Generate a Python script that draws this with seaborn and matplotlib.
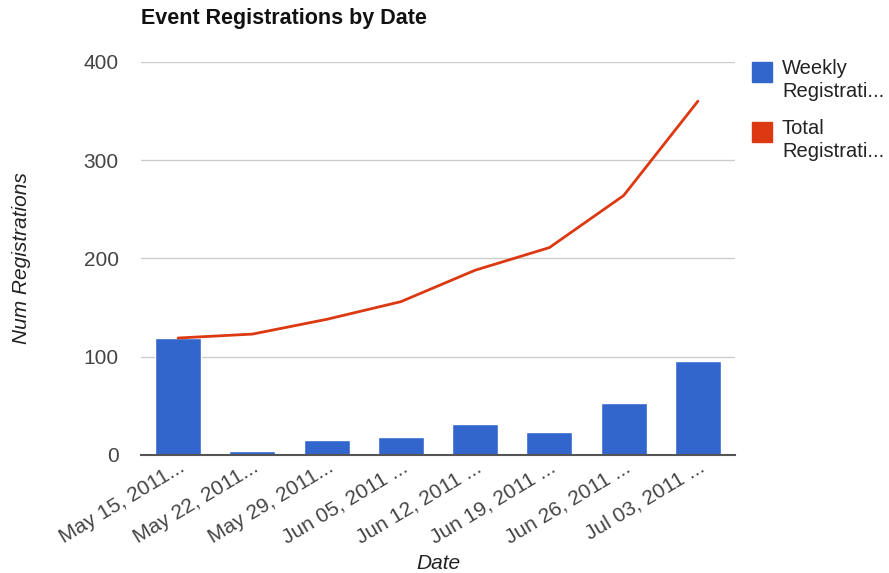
import pandas as pd
import matplotlib
matplotlib.use('Agg')
import matplotlib.pyplot as plt
import seaborn as sns
from matplotlib.patches import Rectangle

# Data
dates = ['May 15, 2011...', 'May 22, 2011...', 'May 29, 2011...', 'Jun 05, 2011 ...',
         'Jun 12, 2011 ...', 'Jun 19, 2011 ...', 'Jun 26, 2011 ...', 'Jul 03, 2011 ...']
weekly = [119, 4, 15, 18, 32, 23, 53, 96]
total = [119, 123, 138, 156, 188, 211, 264, 360]
series_names = ['Weekly\nRegistrati...', 'Total\nRegistrati...']

df = pd.DataFrame({'date': dates, 'weekly': weekly, 'total': total})

sns.set_style('white')
plt.rcParams['font.family'] = ['Liberation Sans', 'DejaVu Sans']

blue = '#3366CC'
red = '#DC3912'

fig = plt.figure(figsize=(8.89, 5.73), dpi=100)
ax = fig.add_axes([0.1586, 0.206, 0.6682, 0.686])

sns.barplot(data=df, x='date', y='weekly', color=blue, width=0.62, saturation=1, ax=ax, zorder=2)
sns.lineplot(x=range(len(dates)), y=df['total'], color=red, linewidth=2, ax=ax, zorder=3)

ax.set_ylim(0, 400)
ax.set_xlim(-0.5, len(dates) - 0.5)
ax.set_yticks([0, 100, 200, 300, 400])
ax.yaxis.grid(True, color='#cccccc', linewidth=1)
ax.set_axisbelow(True)
for s in ['top', 'right', 'left']:
    ax.spines[s].set_visible(False)
ax.spines['bottom'].set_color('#555555')
ax.spines['bottom'].set_linewidth(1.5)
ax.spines['bottom'].set_zorder(4)

ax.tick_params(axis='both', length=0, labelsize=15, labelcolor='#444444')
ax.tick_params(axis='y', pad=16)
ax.tick_params(axis='x', pad=2)
plt.setp(ax.get_xticklabels(), rotation=31, ha='right', rotation_mode='anchor')
for lbl in ax.get_xticklabels():
    lbl.set_x(lbl.get_position()[0])

ax.set_xlabel('Date', fontsize=15, style='italic', color='#222222', labelpad=5)
ax.set_ylabel('Num Registrations', fontsize=15, style='italic', color='#222222', labelpad=38)

fig.text(0.1586, 0.968, 'Event Registrations by Date', fontsize=15.5, fontweight='bold',
         color='#111111', va='center', ha='left')

# legend drawn by hand so the swatch sits beside the first line of each label
for i, (name, col) in enumerate(zip(series_names, [blue, red])):
    top = 1 - (62 + 60 * i) / 573
    fig.patches.append(Rectangle((752 / 889, top - 20 / 573), 20 / 889, 20 / 573,
                                 transform=fig.transFigure, color=col, figure=fig))
    fig.text(782 / 889, top + 3 / 573, name, fontsize=14.5, color='#222222',
             va='top', ha='left', linespacing=1.25)

fig.savefig('out.png', dpi=100)
